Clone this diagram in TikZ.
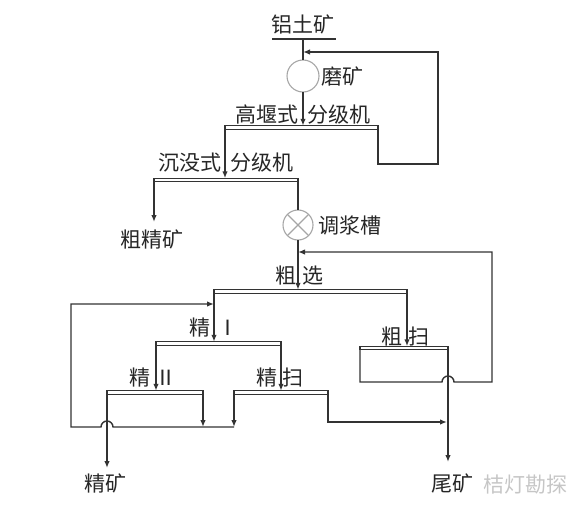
\documentclass[tikz,border=0pt]{standalone}
\usepackage{fontspec}
\newfontfamily\cjk{Noto Sans CJK SC}
\usetikzlibrary{arrows.meta}

\begin{document}
\begin{tikzpicture}[x=1pt, y=-1pt, line width=1.4pt, color=black!80,
  >={Latex[length=7pt,width=5.5pt]},
  lbl/.style={font=\cjk\fontsize{21}{25}\selectfont, text=black!85, inner sep=0pt},
  bar/.style={draw, rectangle, minimum height=3.5pt, inner sep=0pt, outer sep=0pt, line width=1.1pt},
  vessel/.style={draw=gray!70, circle, inner sep=0pt, outer sep=0pt, line width=1.1pt}]

\useasboundingbox (0,0) rectangle (581,514);

\coordinate (fl) at (272,39);
\coordinate (fr) at (336,39);
\coordinate (fm) at (303,39);
\coordinate (j1) at (303,52);
\coordinate (hwr) at (438,164);
\coordinate (cc) at (154,222);
\coordinate (j2) at (298,252);
\coordinate (rsb) at (360,382);
\coordinate (hp2) at (442,382);
\coordinate (rsr) at (492,382);
\coordinate (j3) at (214,304);
\coordinate (lb) at (71,427);
\coordinate (hp1) at (113,427);
\coordinate (m1) at (203,427);
\coordinate (m2) at (234,427);
\coordinate (j4) at (447,422);
\coordinate (con) at (107,468);
\coordinate (tail) at (448,462);

% vessels and cells
\node[vessel, minimum size=32pt] (mill) at (303,76) {};
\node[vessel, minimum size=30pt] (tank) at (298,225) {};
\node[bar, minimum width=153pt] (hw) at (301.5,127.5) {};
\node[bar, minimum width=144pt] (sk) at (226,180) {};
\node[bar, minimum width=193pt] (ro) at (310.5,291.5) {};
\node[bar, minimum width=125pt] (c1) at (218.5,343.5) {};
\node[bar, minimum width=96pt] (c2) at (155,392.5) {};
\node[bar, minimum width=94pt] (cs) at (281,392.5) {};
\node[bar, minimum width=88pt] (rs) at (404,348) {};

\draw[gray!70, line width=1.1pt] (tank.north west) -- (tank.south east)
  (tank.north east) -- (tank.south west);

% labels
\node[lbl] (feed) at (303,24) {铝土矿};
\node[lbl] (millt) at (342,76) {磨矿};
\node[lbl] (hwt) at (303,115) {高堰式\hspace{9pt}分级机};
\node[lbl] (skt) at (226,163) {沉没式\hspace{9pt}分级机};
\node[lbl] (ccon) at (152,239) {粗精矿};
\node[lbl] (tankt) at (350,226) {调浆槽};
\node[lbl] (rot) at (299.5,276) {粗\hspace{6pt}选};
\node[lbl] (c1t) at (214,328) {精\hspace{7pt}Ⅰ};
\node[lbl] (c2t) at (153,378) {精\hspace{5pt}Ⅱ};
\node[lbl] (cst) at (280,378) {精\hspace{5pt}扫};
\node[lbl] (rst) at (405.5,337) {粗\hspace{6pt}扫};
\node[lbl] (cont) at (105,483) {精矿};
\node[lbl] (tailt) at (452,483) {尾矿};
\node[lbl, text=gray!45] (mark) at (525,485) {桔灯勘探};

% grinding and classifying
\draw (fl) -- (fr);
\draw (fm) -- (mill.north);
\draw[->] (mill.south) -- (mill.south |- hw.north);
\draw[->] (hw.south east) |- (hwr) |- (j1);
\draw[->] (hw.south west) -- (hw.south west |- sk.north);
\draw[->] (sk.south west) -- (cc);
\draw (sk.south east) -- (tank.north);
\draw[->] (tank.south) -- (tank.south |- ro.north);

% flotation
\draw[->] (ro.south west) -- (ro.south west |- c1.north);
\draw[->] (ro.south east) -- (ro.south east |- rs.north);
\draw[->] (rs.south west) -- (rsb) -- (hp2) arc[start angle=180, end angle=0, radius=6pt] -- (rsr) |- (j2);
\draw[->] (rs.south east) -- (tail);
\draw[->] (c1.south west) -- (c1.south west |- c2.north);
\draw[->] (c1.south east) -- (c1.south east |- cs.north);
\draw[->] (c2.south west) -- (con);
\draw[->] (c2.south east) -- (m1);
\draw[->] (cs.south west) -- (m2);
\draw[->] (m2) -- (hp1) arc[start angle=0, end angle=180, radius=6pt] -- (lb) |- (j3);
\draw[->] (cs.south east) |- (j4);

\end{tikzpicture}
\end{document}
